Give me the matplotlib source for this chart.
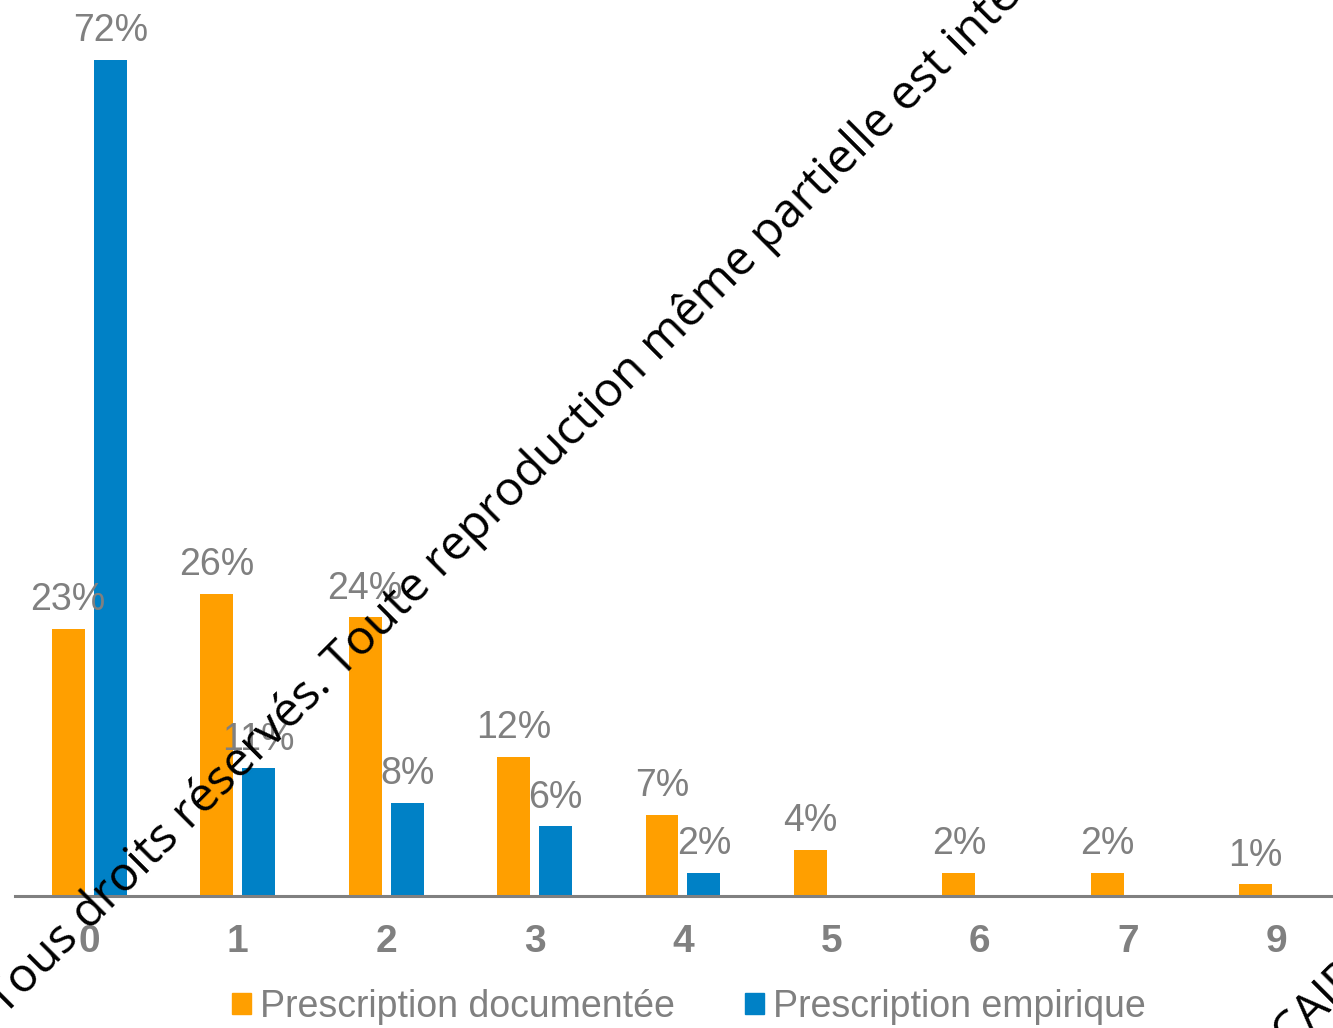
import numpy as np
import matplotlib
matplotlib.use('Agg')
import matplotlib.pyplot as plt
from matplotlib.textpath import TextPath
from matplotlib.font_manager import FontProperties

# Nombre d'antibiotiques prescrits, en % des prescriptions
categories = ['0', '1', '2', '3', '4', '5', '6', '7', '9']
documentee = [23, 26, 24, 12, 7, 4, 2, 2, 1]
empirique = [72, 11, 8, 6, 2, None, None, None, None]

ORANGE = '#FF9F00'
BLEU = '#0081C6'
GRIS = '#808080'

W, H = 1333, 1028
fig = plt.figure(figsize=(W / 100, H / 100), dpi=100)

# axe placé en pixels : x de -0.5 à 8.5 sur [15, 1351], base à y=896
px_unit = 148.44
y_base = H - 896
px_pct = 11.61
ax = fig.add_axes([15 / W, y_base / H, 9 * px_unit / W, 75 * px_pct / H])
ax.set_xlim(-0.5, 8.5)
ax.set_ylim(0, 75)

x = np.arange(len(categories))
larg = 0.222
dec = 0.1414

font = 'Liberation Sans'

for i, v in enumerate(documentee):
    ax.bar(x[i] - dec, v, larg, color=ORANGE, zorder=2)
    ax.annotate(f'{v}%', (x[i] - dec, v), xytext=(0, 13.5), textcoords='offset points',
                ha='center', va='baseline', fontsize=27, color=GRIS, family=font)
for i, v in enumerate(empirique):
    if v is None:
        continue
    ax.bar(x[i] + dec, v, larg, color=BLEU, zorder=2)
    ax.annotate(f'{v}%', (x[i] + dec, v), xytext=(0, 13.5), textcoords='offset points',
                ha='center', va='baseline', fontsize=27, color=GRIS, family=font)

for s in ['left', 'right', 'top']:
    ax.spines[s].set_visible(False)
ax.spines['bottom'].set_color(GRIS)
ax.spines['bottom'].set_linewidth(2.2)
ax.spines['bottom'].set_zorder(3)
ax.set_yticks([])
ax.set_xticks(x)
ax.set_xticklabels(categories, fontsize=28, fontweight='bold', color=GRIS, family=font)
ax.tick_params(axis='x', length=0, pad=20)

# légende
handles = [plt.Rectangle((0, 0), 1, 1, color=ORANGE), plt.Rectangle((0, 0), 1, 1, color=BLEU)]
fig.legend(handles, ['Prescription documentée', 'Prescription empirique'],
           loc='center', bbox_to_anchor=(689 / W, 1 - 1007 / H), ncol=2, frameon=False,
           prop={'family': font, 'size': 27}, labelcolor=GRIS,
           handlelength=0.5, handleheight=0.5, handletextpad=0.25, columnspacing=1.85)

# filigrane à 45° : fût du "T" en (13, 1007) et fût du "i" de "interdite"
# en (968, 53), pixels depuis le coin haut gauche
wm = 'Tous droits réservés. Toute reproduction même partielle est interdite'
fp = FontProperties(family='Open Sans')
ext_T = TextPath((0, 0), 'T', size=100, prop=fp).get_extents()
ext_i = TextPath((0, 0), wm[:wm.index('interdite') + 1], size=100, prop=fp).get_extents()
t_c = (ext_T.x1 - ext_T.x0) / 2
i_c = ext_i.x1 - ext_T.x0 - 5
d_px = np.hypot(968 - 13, 1007 - 53)
fs = d_px * 72 / (i_c - t_c)
off = t_c * fs / 72 / np.sqrt(2)
fig.text((13 - off) / W, 1 - (1007 + off) / H, wm,
         rotation=45, rotation_mode='anchor', ha='left', va='baseline',
         fontsize=fs, family='Open Sans', color='black', zorder=10)
fig.text(1289 / W, 1 - 1050 / H, 'CAIRN', rotation=45, rotation_mode='anchor',
         ha='left', va='baseline', fontsize=fs, family='Open Sans', color='black', zorder=10)

fig.savefig('out.png', dpi=100)
